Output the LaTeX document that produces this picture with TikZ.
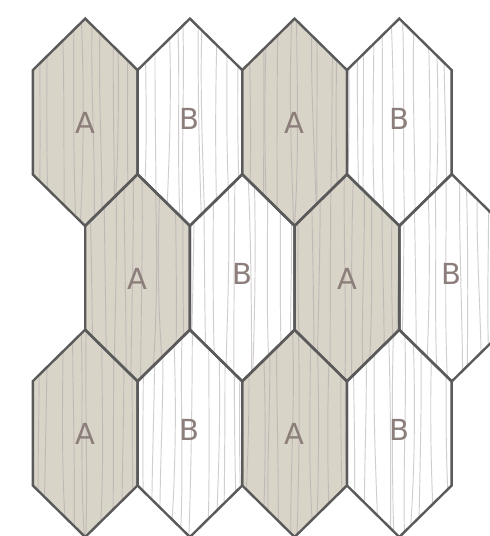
\documentclass[tikz,border=0pt]{standalone}
\usepackage{fontspec}
\newfontfamily\labfont{DejaVu Sans}
\definecolor{tileA}{HTML}{D9D4C8}
\definecolor{grainA}{HTML}{C0BAB7}
\definecolor{grainB}{HTML}{D2CECE}
\definecolor{edge}{HTML}{5A5A5A}
\definecolor{labcol}{HTML}{8C7E7B}
\tikzset{
  hexedge/.style={draw=edge, line width=2.4pt, line join=miter},
  grainline/.style={line width=0.95pt},
  lab/.style={text=labcol, font=\labfont\fontsize{29}{29}\selectfont, inner sep=0pt, anchor=center}
}
\newcommand{\hexpath}[2]{(#1,#2-103.7) -- (#1+52.35,#2-52.2) -- (#1+52.35,#2+52.2) -- (#1,#2+103.7) -- (#1-52.35,#2+52.2) -- (#1-52.35,#2-52.2) -- cycle}
\newcommand{\grain}[4]{%
  \begin{scope}
    \clip \hexpath{#1}{#2};
    \pgfmathsetseed{#3}
    \foreach \i in {0,...,11}{
      \pgfmathsetmacro{\gx}{#1-55+\i*10+4*rand}
      \pgfmathsetmacro{\da}{4*rand}
      \pgfmathsetmacro{\db}{4*rand}
      \pgfmathsetmacro{\dc}{4*rand}
      \draw[grainline,#4] (\gx,#2-110) .. controls (\gx+\da,#2-40) and (\gx+\db,#2+40) .. (\gx+\dc,#2+110);
    }
  \end{scope}}
\newcommand{\tileA}[3]{%
  \fill[tileA] \hexpath{#1}{#2};
  \grain{#1}{#2}{#3}{grainA}}
\newcommand{\tileB}[3]{%
  \fill[white] \hexpath{#1}{#2};
  \grain{#1}{#2}{#3}{grainB}}
\begin{document}
\begin{tikzpicture}[x=1pt,y=-1pt]
\useasboundingbox (0,0) rectangle (490,536);
\fill[white] (0,0) rectangle (490,536);
\begin{scope}
\clip (0,0) rectangle (490,536);
% row 1
\tileA{85.2}{122.3}{11}
\tileB{189.9}{122.3}{12}
\tileA{294.6}{122.3}{13}
\tileB{399.3}{122.3}{14}
% row 2
\tileA{137.55}{277.8}{21}
\tileB{242.25}{277.8}{22}
\tileA{346.95}{277.8}{23}
\tileB{451.65}{277.8}{24}
% row 3
\tileA{85.2}{433.3}{31}
\tileB{189.9}{433.3}{32}
\tileA{294.6}{433.3}{33}
\tileB{399.3}{433.3}{34}
% outlines
\foreach \cx/\cy in {85.2/122.3,189.9/122.3,294.6/122.3,399.3/122.3,
  137.55/277.8,242.25/277.8,346.95/277.8,451.65/277.8,
  85.2/433.3,189.9/433.3,294.6/433.3,399.3/433.3}{
  \draw[hexedge] \hexpath{\cx}{\cy};
}
\end{scope}
% labels
\node[lab] (l11) at (85.2,122.8) {A};
\node[lab] (l12) at (189.9,118.5) {B};
\node[lab] (l13) at (294.6,122.8) {A};
\node[lab] (l14) at (399.3,118.5) {B};
\node[lab] (l21) at (137.55,278.5) {A};
\node[lab] (l22) at (242.25,274) {B};
\node[lab] (l23) at (346.95,278.5) {A};
\node[lab] (l24) at (451.65,274) {B};
\node[lab] (l31) at (85.2,434) {A};
\node[lab] (l32) at (189.9,429.5) {B};
\node[lab] (l33) at (294.6,434) {A};
\node[lab] (l34) at (399.3,429.5) {B};
\end{tikzpicture}
\end{document}
